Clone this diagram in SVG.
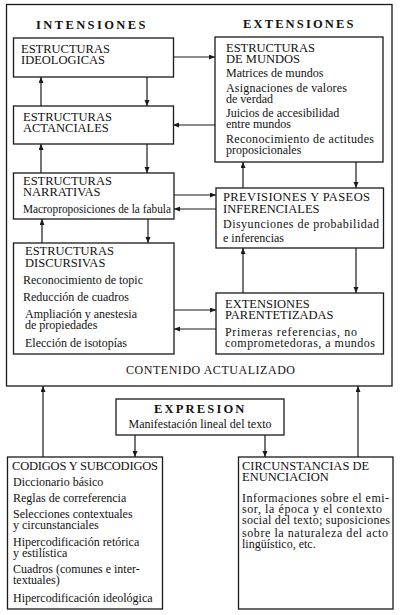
<svg xmlns="http://www.w3.org/2000/svg" width="400" height="615" viewBox="0 0 400 615">
<style>
  .bx{fill:#fff;stroke:#1a1a1a;stroke-width:1.3}
  .ol{fill:none;stroke:#1a1a1a;stroke-width:1.3}
  .cn{fill:none;stroke:#1a1a1a;stroke-width:1.2;marker-end:url(#ah)}
  text{font-family:"Liberation Serif","Times New Roman",serif;fill:#111}
  .h{font-size:12.5px}
  .t{font-size:12px}
  .sp{font-size:12.5px;font-weight:bold;letter-spacing:2.6px}
</style>
<defs>
  <marker id="ah" markerUnits="userSpaceOnUse" markerWidth="7" markerHeight="6" refX="6" refY="2.5" orient="auto">
    <path d="M0,0 L6,2.5 L0,5 z" fill="#1a1a1a"/>
  </marker>
</defs>
<rect fill="#fff" x="0" y="0" width="400" height="615"/>

<g id="outer">
  <rect class="ol" x="6.5" y="4.5" width="385.5" height="381.5"/>
  <text class="sp" x="36" y="29" textLength="112">INTENSIONES</text>
  <text class="sp" x="243" y="28" textLength="113">EXTENSIONES</text>
  <text class="t" x="126" y="374" textLength="169" lengthAdjust="spacing">CONTENIDO ACTUALIZADO</text>
</g>

<g id="connectors">
  <line class="cn" x1="147" y1="77" x2="147" y2="106"/>
  <line class="cn" x1="41" y1="106" x2="41" y2="77"/>
  <line class="cn" x1="147" y1="144" x2="147" y2="173"/>
  <line class="cn" x1="41" y1="173" x2="41" y2="144"/>
  <line class="cn" x1="148" y1="219" x2="148" y2="243"/>
  <line class="cn" x1="42" y1="243" x2="42" y2="219"/>
  <line class="cn" x1="173" y1="57" x2="215" y2="57"/>
  <line class="cn" x1="215" y1="125" x2="173" y2="125"/>
  <line class="cn" x1="174" y1="195" x2="216" y2="195"/>
  <line class="cn" x1="216" y1="209" x2="174" y2="209"/>
  <line class="cn" x1="174" y1="310" x2="216" y2="310"/>
  <line class="cn" x1="216" y1="329" x2="174" y2="329"/>
  <line class="cn" x1="243" y1="188" x2="243" y2="162"/>
  <line class="cn" x1="356" y1="162" x2="356" y2="188"/>
  <line class="cn" x1="243" y1="293" x2="243" y2="248"/>
  <line class="cn" x1="356" y1="248" x2="356" y2="293"/>
  <line class="cn" x1="43" y1="457" x2="43" y2="386"/>
  <line class="cn" x1="358" y1="457" x2="358" y2="386"/>
  <line class="cn" x1="135" y1="435" x2="135" y2="457"/>
  <line class="cn" x1="265" y1="435" x2="265" y2="457"/>
</g>

<g id="ideologicas">
  <rect class="bx" x="13.5" y="38" width="160" height="39"/>
  <text class="h" x="21" y="53">ESTRUCTURAS</text>
  <text class="h" x="21" y="64">IDEOLOGICAS</text>
</g>

<g id="actanciales">
  <rect class="bx" x="13.5" y="106" width="160" height="38"/>
  <text class="h" x="23" y="121">ESTRUCTURAS</text>
  <text class="h" x="23" y="132">ACTANCIALES</text>
</g>

<g id="narrativas">
  <rect class="bx" x="13.5" y="173" width="160.5" height="46"/>
  <text class="h" x="23" y="185">ESTRUCTURAS</text>
  <text class="h" x="23" y="196">NARRATIVAS</text>
  <text class="t" x="23" y="213" textLength="148" lengthAdjust="spacingAndGlyphs">Macroproposiciones de la fabula</text>
</g>

<g id="discursivas">
  <rect class="bx" x="13.5" y="243" width="160.5" height="111"/>
  <text class="h" x="25" y="255">ESTRUCTURAS</text>
  <text class="h" x="25" y="267">DISCURSIVAS</text>
  <text class="t" x="23" y="284">Reconocimiento de topic</text>
  <text class="t" x="23" y="301">Reducción de cuadros</text>
  <text class="t" x="25" y="318">Ampliación y anestesia</text>
  <text class="t" x="25" y="329">de propiedades</text>
  <text class="t" x="25" y="347">Elección de isotopías</text>
</g>

<g id="mundos">
  <rect class="bx" x="215" y="37" width="168" height="125"/>
  <text class="h" x="226" y="52">ESTRUCTURAS</text>
  <text class="h" x="226" y="63">DE  MUNDOS</text>
  <text class="t" x="226" y="77">Matrices de mundos</text>
  <text class="t" x="226" y="91.5" textLength="121" lengthAdjust="spacing">Asignaciones de valores</text>
  <text class="t" x="226" y="102.5">de verdad</text>
  <text class="t" x="226" y="117">Juicios de accesibilidad</text>
  <text class="t" x="226" y="128">entre mundos</text>
  <text class="t" x="226" y="143" textLength="148" lengthAdjust="spacing">Reconocimiento de actitudes</text>
  <text class="t" x="226" y="154">proposicionales</text>
</g>

<g id="previsiones">
  <rect class="bx" x="216" y="188" width="167.5" height="60"/>
  <text class="h" x="223" y="201" textLength="147" lengthAdjust="spacing">PREVISIONES Y PASEOS</text>
  <text class="h" x="223" y="213">INFERENCIALES</text>
  <text class="t" x="223" y="228" textLength="156" lengthAdjust="spacing">Disyunciones de probabilidad</text>
  <text class="t" x="223" y="242">e inferencias</text>
</g>

<g id="parentetizadas">
  <rect class="bx" x="216" y="293" width="167.5" height="61"/>
  <text class="h" x="225" y="308">EXTENSIONES</text>
  <text class="h" x="225" y="319">PARENTETIZADAS</text>
  <text class="t" x="225" y="336" textLength="132" lengthAdjust="spacing">Primeras referencias, no</text>
  <text class="t" x="225" y="347" textLength="150" lengthAdjust="spacing">comprometedoras, a mundos</text>
</g>

<g id="expresion">
  <rect class="bx" x="116" y="399" width="168" height="36"/>
  <text class="sp" x="154" y="413" textLength="93">EXPRESION</text>
  <text class="t" x="200" y="428" text-anchor="middle">Manifestación lineal del texto</text>
</g>

<g id="codigos">
  <rect class="bx" x="7.5" y="457" width="155" height="152"/>
  <text class="h" x="12" y="470" textLength="146" lengthAdjust="spacing">CODIGOS Y SUBCODIGOS</text>
  <text class="t" x="13" y="486">Diccionario básico</text>
  <text class="t" x="13" y="502">Reglas de correferencia</text>
  <text class="t" x="13" y="518">Selecciones contextuales</text>
  <text class="t" x="13" y="529">y circunstanciales</text>
  <text class="t" x="13" y="546">Hipercodificación retórica</text>
  <text class="t" x="13" y="557">y estilística</text>
  <text class="t" x="13" y="573">Cuadros (comunes e inter-</text>
  <text class="t" x="13" y="584">textuales)</text>
  <text class="t" x="13" y="602">Hipercodificación ideológica</text>
</g>

<g id="circunstancias">
  <rect class="bx" x="238.5" y="457" width="154.5" height="152"/>
  <text class="h" x="242" y="470">CIRCUNSTANCIAS DE</text>
  <text class="h" x="242" y="481">ENUNCIACION</text>
  <text class="t" x="242" y="502" textLength="147" lengthAdjust="spacing">Informaciones sobre el emi-</text>
  <text class="t" x="242" y="513" textLength="140" lengthAdjust="spacing">sor, la época y el contexto</text>
  <text class="t" x="242" y="524" textLength="148" lengthAdjust="spacing">social del texto; suposiciones</text>
  <text class="t" x="242" y="537" textLength="146" lengthAdjust="spacing">sobre la naturaleza del acto</text>
  <text class="t" x="242" y="548">lingüístico, etc.</text>
</g>
</svg>
